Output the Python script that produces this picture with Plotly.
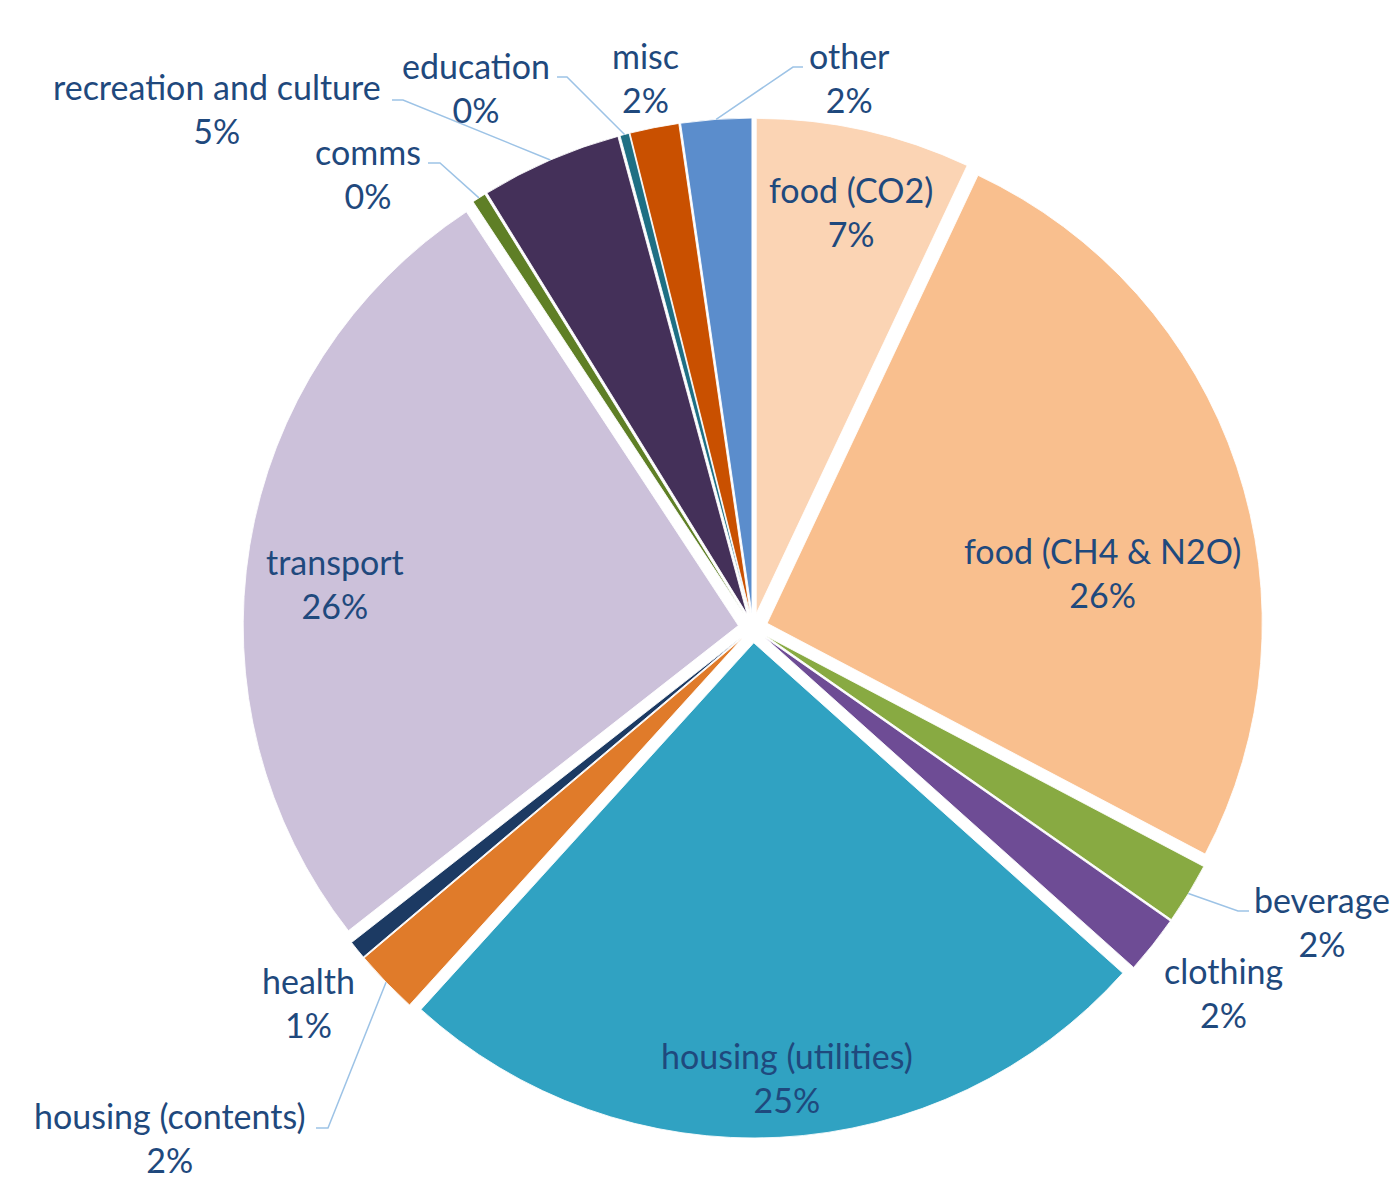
import math
import plotly.graph_objects as go

# ---------------- data ----------------
categories = ["food (CO2)", "food (CH4 & N2O)", "beverage", "clothing",
              "housing (utilities)", "housing (contents)", "health", "transport",
              "comms", "recreation and culture", "education", "misc", "other"]
values = [7.0, 25.7, 2.0, 1.9, 25.1, 2.1, 0.6, 26.3, 0.45, 4.6, 0.3, 1.6, 2.3]

# ---------------- style ----------------
colors = ["#FBD4B4", "#F9BF8E", "#88AA42", "#6E4C95", "#30A2C2", "#E07B2A",
          "#1C3A63", "#CCC1DA", "#5F7F26", "#443059", "#1E6F84", "#C95000", "#5B8DCC"]
TEXT_COLOR = "#1F497D"
LEADER_COLOR = "#9DC3E6"
FONT = "Lato"
FONT_SIZE = 34

W, H = 1393, 1183
CX, CY = 753, 628          # pie centre in pixels
R_OUT = 510                # outer radius incl. pull, pixels
PULL = 0.03

# label block centres (pixels)
label_pos = {
    "food (CO2)": (851, 211),
    "food (CH4 & N2O)": (1102, 573),
    "beverage": (1322, 921),
    "clothing": (1223, 992),
    "housing (utilities)": (787, 1077),
    "housing (contents)": (169, 1137),
    "health": (308, 1002),
    "transport": (335, 583),
    "comms": (368, 173),
    "recreation and culture": (217, 109),
    "education": (476, 87),
    "misc": (645, 77),
    "other": (849, 77),
}
# leader lines: label-side start and elbow (pixels); end is on the slice
leader_pts = {
    "other": [(803, 67), (793, 67)],
    "education": [(557, 77), (567, 77)],
    "recreation and culture": [(392, 100), (403, 100)],
    "comms": [(428, 163), (440, 163)],
    "beverage": [(1249, 911), (1238, 911)],
    "housing (contents)": [(316, 1128), (328, 1128)],
}


def px(x):
    return x / W


def py(y):
    return 1 - y / H


total = sum(values)
fig = go.Figure(go.Pie(
    labels=categories,
    values=values,
    sort=False,
    direction="clockwise",
    rotation=0,
    pull=[PULL] * len(values),
    marker=dict(colors=colors, line=dict(color="rgba(255,255,255,0.85)", width=1)),
    textinfo="none",
    showlegend=False,
    domain=dict(x=[px(CX - R_OUT), px(CX + R_OUT)],
                y=[py(CY + R_OUT), py(CY - R_OUT)]),
))

annotations = []
shapes = []
cum = 0.0
for name, v in zip(categories, values):
    mid = (cum + v / 2) / total * 2 * math.pi
    cum += v
    pct = round(v / total * 100)
    lx, ly = label_pos[name]
    annotations.append(dict(
        x=px(lx), y=py(ly), xref="paper", yref="paper",
        text=f"{name}<br>{pct}%", showarrow=False,
        xanchor="center", yanchor="middle", align="center",
        borderpad=0,
        font=dict(family=FONT, size=FONT_SIZE, color=TEXT_COLOR),
    ))
    if name in leader_pts:
        ex = CX + R_OUT * math.sin(mid)
        ey = CY - R_OUT * math.cos(mid)
        pts = leader_pts[name] + [(ex, ey)]
        path = "M " + " L ".join(f"{px(x):.5f},{py(y):.5f}" for x, y in pts)
        shapes.append(dict(type="path", path=path, xref="paper", yref="paper",
                           line=dict(color=LEADER_COLOR, width=1.5)))

fig.update_layout(
    width=W, height=H,
    margin=dict(l=0, r=0, t=0, b=0),
    paper_bgcolor="white",
    plot_bgcolor="white",
    annotations=annotations,
    shapes=shapes,
)

fig.write_html("out.html")
